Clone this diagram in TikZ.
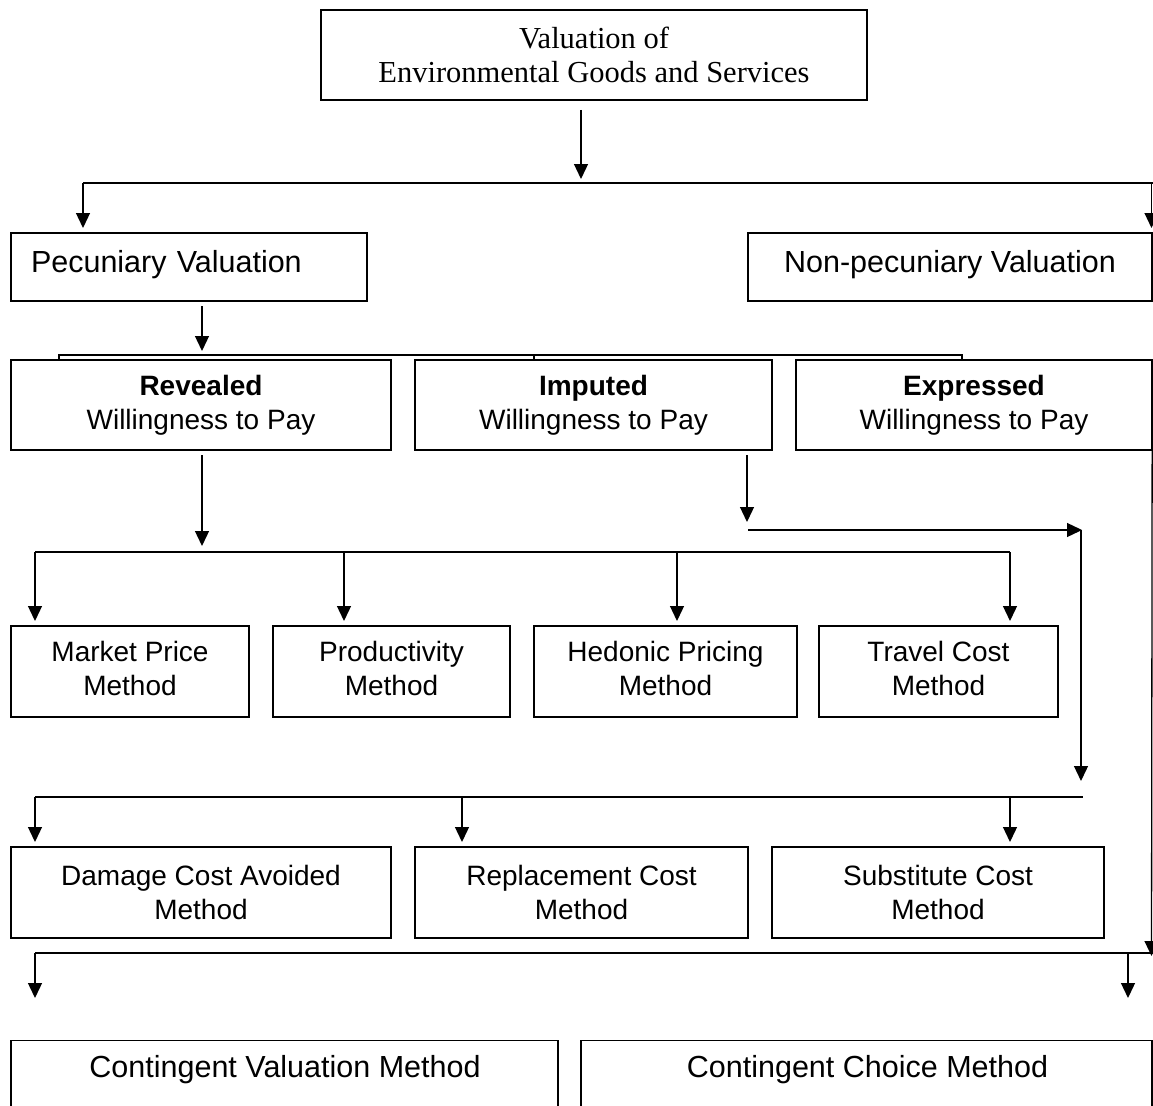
\documentclass[tikz,border=0pt]{standalone}
\usepackage{fontspec}
\setmainfont{Liberation Sans}
\newfontfamily\serifff{Liberation Serif}
\usetikzlibrary{arrows.meta}
\begin{document}
\begin{tikzpicture}[x=1pt,y=-1pt,
  box/.style={draw,line width=1.3pt,rectangle,inner sep=0pt,align=center,
    font=\fontsize{28}{34}\selectfont},
  bigtxt/.style={font=\fontsize{30.5}{34}\selectfont},
  conn/.style={line width=1.3pt},
  arr/.style={line width=1.3pt,-{Triangle[length=15pt,width=14pt]}},
]
\useasboundingbox (0,0) rectangle (1153,1105);
\clip (0,0) rectangle (1153,1105);

% boxes
\node[box,minimum width=546pt,minimum height=90pt,
  font=\serifff\fontsize{30.5}{34}\selectfont] (top) at (594,55)
  {Valuation of\\Environmental Goods and Services};

\node[box,bigtxt,minimum width=356pt,minimum height=68pt,text width=316pt,
  align=left,text height=22pt,text depth=12pt] (pec) at (189,267) {Pecuniary Valuation};
\node[box,bigtxt,minimum width=404pt,minimum height=68pt,
  text height=22pt,text depth=12pt] (npec) at (950,267) {Non-pecuniary Valuation};

\node[box,minimum width=380pt,minimum height=90pt] (rev) at (201,405)
  {\textbf{Revealed}\\Willingness to Pay};
\node[box,minimum width=357pt,minimum height=90pt] (imp) at (593.5,405)
  {\textbf{Imputed}\\Willingness to Pay};
\node[box,minimum width=356pt,minimum height=90pt] (exp) at (974,405)
  {\textbf{Expressed}\\Willingness to Pay};

\node[box,minimum width=238pt,minimum height=91pt,text depth=6pt] (mkt) at (130,671.5)
  {Market Price\\Method};
\node[box,minimum width=237pt,minimum height=91pt,text depth=6pt] (prod) at (391.5,671.5)
  {Productivity\\Method};
\node[box,minimum width=263pt,minimum height=91pt,text depth=6pt] (hed) at (665.5,671.5)
  {Hedonic Pricing\\Method};
\node[box,minimum width=239pt,minimum height=91pt,text depth=6pt] (trav) at (938.5,671.5)
  {Travel Cost\\Method};

\node[box,minimum width=380pt,minimum height=91pt] (dam) at (201,892.5)
  {Damage Cost Avoided\\Method};
\node[box,minimum width=333pt,minimum height=91pt] (rep) at (581.5,892.5)
  {Replacement Cost\\Method};
\node[box,minimum width=332pt,minimum height=91pt] (sub) at (938,892.5)
  {Substitute Cost\\Method};

\node[box,minimum width=547pt,minimum height=100pt,anchor=north] (cvm) at (284.5,1040) {};
\node[bigtxt,inner sep=0pt] (cvmt) at (285,1070) {Contingent Valuation Method};
\node[box,minimum width=571pt,minimum height=100pt,anchor=north] (ccm) at (866.5,1040) {};
\node[bigtxt,inner sep=0pt] (ccmt) at (867.5,1070) {Contingent Choice Method};

% level 1
\draw[arr] (581,110) -- (581,179);
\draw[conn] (83,183) -- (1153,183);
\draw[arr] (83,183) -- (83,228);
\draw[arr] (1151.5,183) -- (1151.5,228);

% level 2
\draw[arr] (202,306) -- (202,351);
\draw[conn] (59,360) -- (59,355) -- (962,355) -- (962,360);
\draw[conn] (534,355) -- (534,360);

% revealed branch
\draw[arr] (202,455) -- (202,546);
\draw[conn] (35,552) -- (1010,552);
\foreach \xx in {35,344,677,1010} \draw[arr] (\xx,552) -- (\xx,621);

% imputed branch
\draw[arr] (747,455) -- (747,522);
\draw[arr] (748,530) -- (1082,530);
\draw[arr] (1081,530) -- (1081,781);
\draw[conn] (35,797) -- (1083,797);
\foreach \xx in {35,462,1010} \draw[arr] (\xx,797) -- (\xx,842);

% expressed branch
\draw[arr] ([shift={(-0.5,0)}]exp.south east) -- (1151.5,956);
\draw[conn] (35,953) -- (1153,953);
\draw[arr] (35,953) -- (35,998);
\draw[arr] (1128,953) -- (1128,998);
\end{tikzpicture}
\end{document}
